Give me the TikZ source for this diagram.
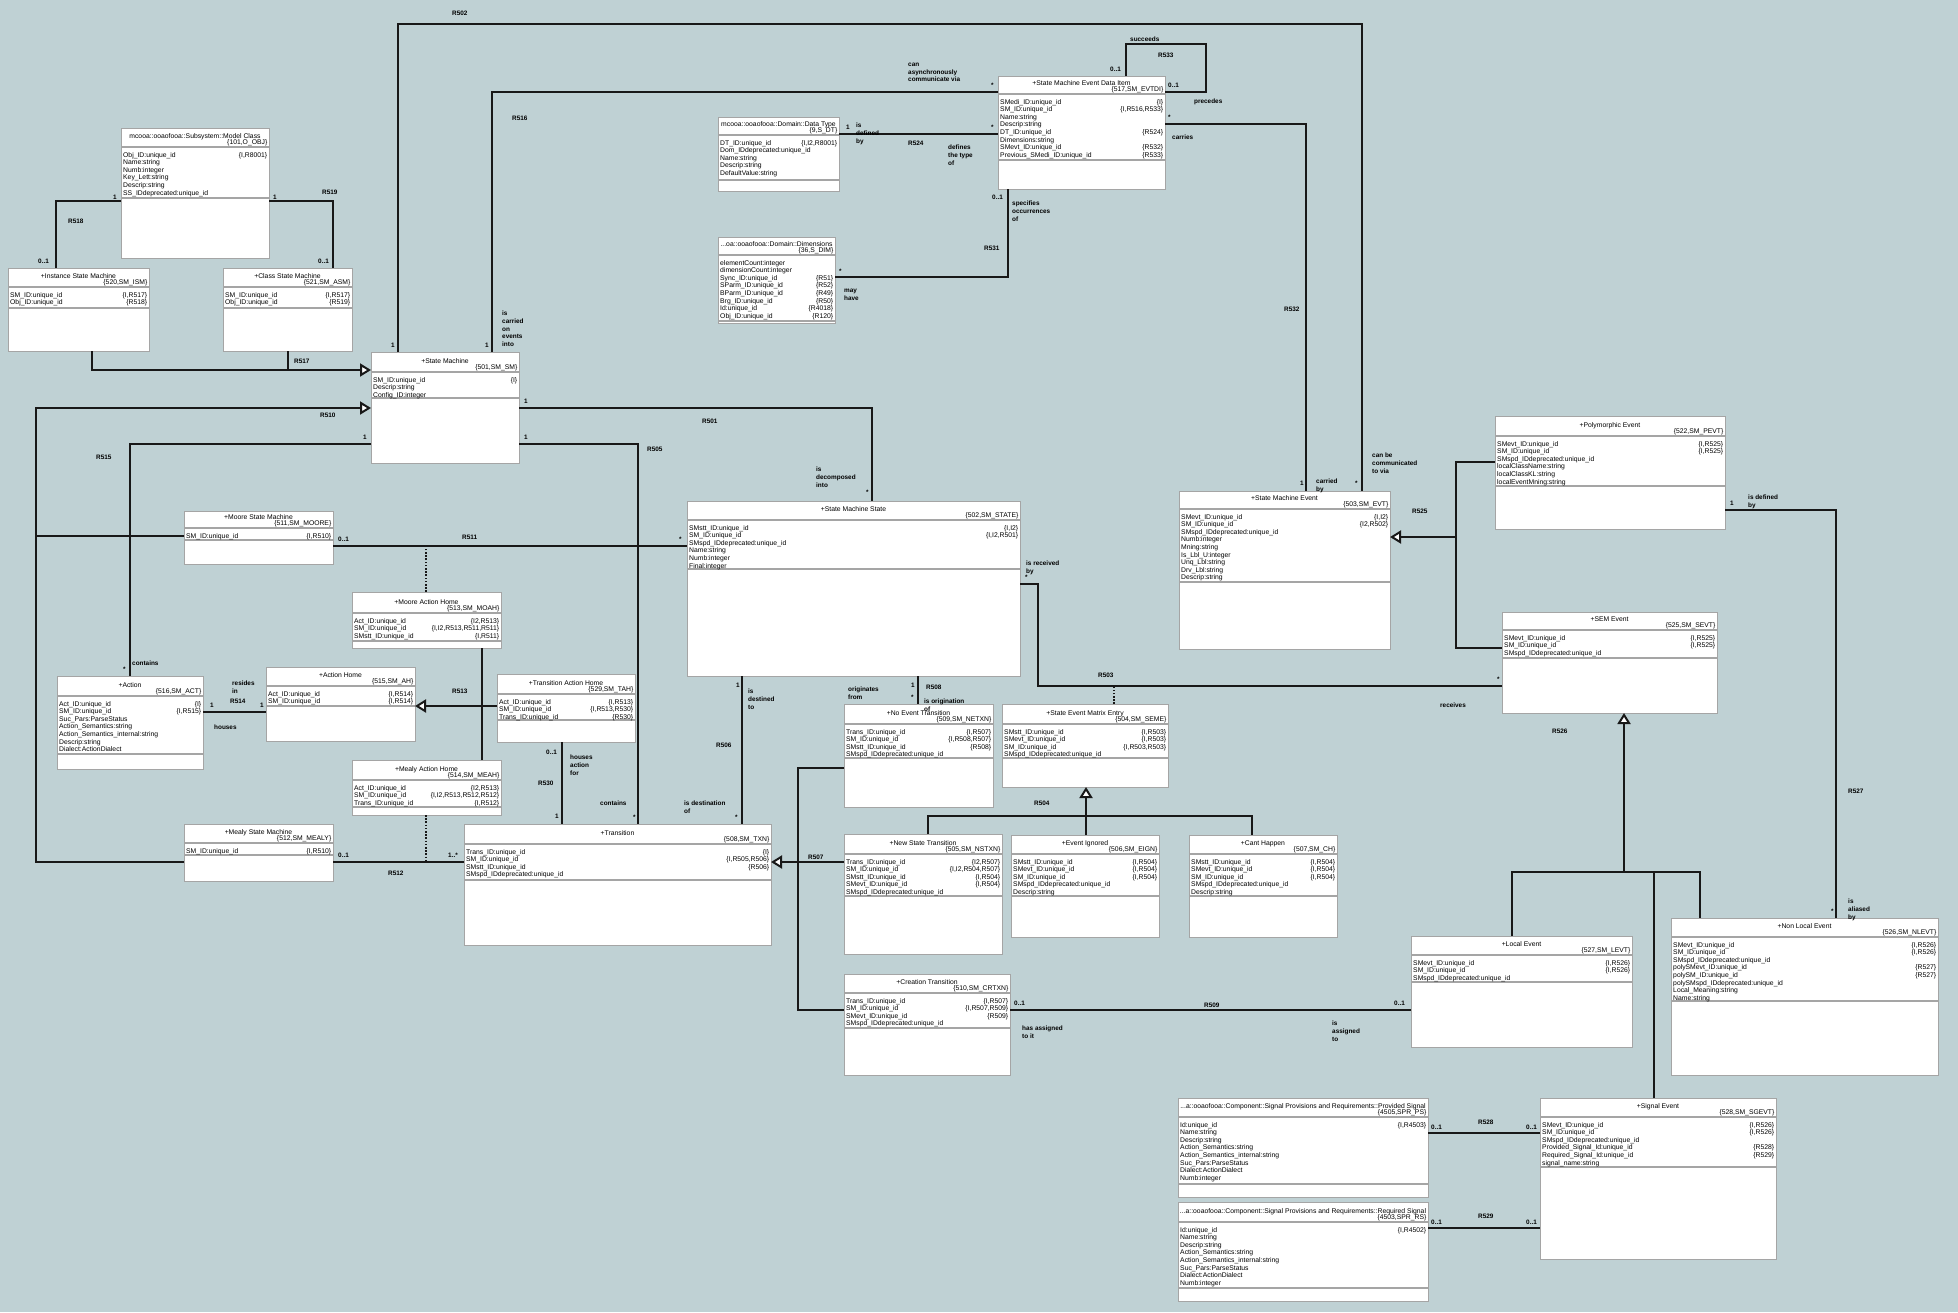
\documentclass[tikz,border=0pt]{standalone}
\usepackage{fontspec}
\setmainfont{Liberation Sans}
\usetikzlibrary{arrows.meta}

\definecolor{diagbg}{RGB}{191,209,212}
\definecolor{linecol}{RGB}{24,24,24}
\definecolor{boxgray}{RGB}{165,165,165}

\newcommand{\classfont}{\fontsize{6.8}{7.6}\selectfont}
\newcommand{\rolefont}{\fontsize{6.4}{7.6}\selectfont\bfseries}

% one attribute line: name on the left, {annotation} on the right
\newcommand{\umlattr}[2]{\hbox to\linewidth{#1\hfil\if\relax\detokenize{#2}\relax\else\{#2\}\fi}}

% #1 name, #2 top left, #3 width, #4 height, #5 title rule, #6 attribute rule,
% #7 title, #8 key, #9 attributes
\newcommand{\umlclass}[9]{%
  \node[classbox, minimum width=#3pt, minimum height=#4pt] (#1) at (#2) {};
  \draw[compsep] ([yshift=-#5pt]#1.north west) -- ([yshift=-#5pt]#1.north east);
  \draw[compsep] ([yshift=-#6pt]#1.north west) -- ([yshift=-#6pt]#1.north east);
  \node[classtitle] (#1title) at ([yshift=-#5pt+9pt]#1.north) {#7};
  \node[classkey] (#1key) at ([xshift=-1.5pt,yshift=-#5pt+2.5pt]#1.north east) {\{#8\}};
  \node[classattrs] (#1attrs) at ([xshift=2pt,yshift=-#5pt-5pt]#1.north west)
    {\begin{minipage}{\dimexpr#3pt-4pt\relax}#9\end{minipage}};
}

\begin{document}
\catcode`\_=12
\begin{tikzpicture}[
		x=1pt, y=-1pt,
		classbox/.style={
			rectangle,
			draw=boxgray,
			fill=white,
			line width=1pt,
			inner sep=0pt,
			outer sep=0pt,
			anchor=north west,
		},
		compsep/.style={draw=boxgray, line width=1.3pt},
		classtitle/.style={anchor=base, inner sep=0pt, font=\classfont},
		classkey/.style={anchor=base east, inner sep=0pt, font=\classfont},
		classattrs/.style={anchor=north west, inner sep=0pt, font=\classfont},
		assoc/.style={draw=linecol, line width=2pt},
		gen/.style={assoc, -{Triangle[open, fill=white, length=11pt, width=13pt]}},
		assocdots/.style={draw=linecol, line width=2pt, dash pattern=on 1.6pt off 1.6pt},
		role/.style={anchor=north west, inner sep=0pt, align=left, font=\rolefont},
	]
		\fill[diagbg] (0,0) rectangle (1958,1312);
		\useasboundingbox (0,0) rectangle (1958,1312);

		% classes
		\umlclass{mc}{121,128}{148}{130}{19}{70}{mcooa::ooaofooa::Subsystem::Model Class}{101,O_OBJ}{
			\umlattr{Obj_ID:unique_id}{I,R8001}
			\umlattr{Name:string}{}
			\umlattr{Numb:integer}{}
			\umlattr{Key_Lett:string}{}
			\umlattr{Descrip:string}{}
			\umlattr{SS_IDdeprecated:unique_id}{}}
		\umlclass{ism}{8,268}{141}{83}{19}{40}{+Instance State Machine}{520,SM_ISM}{
			\umlattr{SM_ID:unique_id}{I,R517}
			\umlattr{Obj_ID:unique_id}{R518}}
		\umlclass{csm}{223,268}{129}{83}{19}{40}{+Class State Machine}{521,SM_ASM}{
			\umlattr{SM_ID:unique_id}{I,R517}
			\umlattr{Obj_ID:unique_id}{R519}}
		\umlclass{sm}{371,352}{148}{111}{20}{46}{+State Machine}{501,SM_SM}{
			\umlattr{SM_ID:unique_id}{I}
			\umlattr{Descrip:string}{}
			\umlattr{Config_ID:integer}{}}
		\umlclass{smedi}{998,76}{167}{113}{18}{84}{+State Machine Event Data Item}{517,SM_EVTDI}{
			\umlattr{SMedi_ID:unique_id}{I}
			\umlattr{SM_ID:unique_id}{I,R516,R533}
			\umlattr{Name:string}{}
			\umlattr{Descrip:string}{}
			\umlattr{DT_ID:unique_id}{R524}
			\umlattr{Dimensions:string}{}
			\umlattr{SMevt_ID:unique_id}{R532}
			\umlattr{Previous_SMedi_ID:unique_id}{R533}}
		\umlclass{dt}{718,117}{121}{74}{18}{63}{mcooa::ooaofooa::Domain::Data Type}{9,S_DT}{
			\umlattr{DT_ID:unique_id}{I,I2,R8001}
			\umlattr{Dom_IDdeprecated:unique_id}{}
			\umlattr{Name:string}{}
			\umlattr{Descrip:string}{}
			\umlattr{DefaultValue:string}{}}
		\umlclass{dim}{718,237}{117}{86}{18}{84}{...oa::ooaofooa::Domain::Dimensions}{36,S_DIM}{
			\umlattr{elementCount:integer}{}
			\umlattr{dimensionCount:integer}{}
			\umlattr{Sync_ID:unique_id}{R51}
			\umlattr{SParm_ID:unique_id}{R52}
			\umlattr{BParm_ID:unique_id}{R49}
			\umlattr{Brg_ID:unique_id}{R50}
			\umlattr{Id:unique_id}{R4018}
			\umlattr{Obj_ID:unique_id}{R120}}
		\umlclass{sms}{687,501}{333}{175}{19}{68}{+State Machine State}{502,SM_STATE}{
			\umlattr{SMstt_ID:unique_id}{I,I2}
			\umlattr{SM_ID:unique_id}{I,I2,R501}
			\umlattr{SMspd_IDdeprecated:unique_id}{}
			\umlattr{Name:string}{}
			\umlattr{Numb:integer}{}
			\umlattr{Final:integer}{}}
		\umlclass{smevt}{1179,491}{211}{158}{18}{91}{+State Machine Event}{503,SM_EVT}{
			\umlattr{SMevt_ID:unique_id}{I,I2}
			\umlattr{SM_ID:unique_id}{I2,R502}
			\umlattr{SMspd_IDdeprecated:unique_id}{}
			\umlattr{Numb:integer}{}
			\umlattr{Mning:string}{}
			\umlattr{Is_Lbl_U:integer}{}
			\umlattr{Unq_Lbl:string}{}
			\umlattr{Drv_Lbl:string}{}
			\umlattr{Descrip:string}{}}
		\umlclass{pevt}{1495,416}{230}{113}{20}{70}{+Polymorphic Event}{522,SM_PEVT}{
			\umlattr{SMevt_ID:unique_id}{I,R525}
			\umlattr{SM_ID:unique_id}{I,R525}
			\umlattr{SMspd_IDdeprecated:unique_id}{}
			\umlattr{localClassName:string}{}
			\umlattr{localClassKL:string}{}
			\umlattr{localEventMning:string}{}}
		\umlclass{semevt}{1502,612}{215}{101}{18}{46}{+SEM Event}{525,SM_SEVT}{
			\umlattr{SMevt_ID:unique_id}{I,R525}
			\umlattr{SM_ID:unique_id}{I,R525}
			\umlattr{SMspd_IDdeprecated:unique_id}{}}
		\umlclass{moore}{184,511}{149}{53}{17}{29}{+Moore State Machine}{511,SM_MOORE}{
			\umlattr{SM_ID:unique_id}{I,R510}}
		\umlclass{moah}{352,592}{149}{56}{21}{49}{+Moore Action Home}{513,SM_MOAH}{
			\umlattr{Act_ID:unique_id}{I2,R513}
			\umlattr{SM_ID:unique_id}{I,I2,R513,R511,R511}
			\umlattr{SMstt_ID:unique_id}{I,R511}}
		\umlclass{ah}{266,667}{149}{74}{19}{39}{+Action Home}{515,SM_AH}{
			\umlattr{Act_ID:unique_id}{I,R514}
			\umlattr{SM_ID:unique_id}{I,R514}}
		\umlclass{act}{57,676}{146}{93}{20}{78}{+Action}{516,SM_ACT}{
			\umlattr{Act_ID:unique_id}{I}
			\umlattr{SM_ID:unique_id}{I,R515}
			\umlattr{Suc_Pars:ParseStatus}{}
			\umlattr{Action_Semantics:string}{}
			\umlattr{Action_Semantics_internal:string}{}
			\umlattr{Descrip:string}{}
			\umlattr{Dialect:ActionDialect}{}}
		\umlclass{tah}{497,674}{138}{68}{20}{46}{+Transition Action Home}{529,SM_TAH}{
			\umlattr{Act_ID:unique_id}{I,R513}
			\umlattr{SM_ID:unique_id}{I,R513,R530}
			\umlattr{Trans_ID:unique_id}{R530}}
		\umlclass{meah}{352,760}{149}{55}{20}{47}{+Mealy Action Home}{514,SM_MEAH}{
			\umlattr{Act_ID:unique_id}{I2,R513}
			\umlattr{SM_ID:unique_id}{I,I2,R513,R512,R512}
			\umlattr{Trans_ID:unique_id}{I,R512}}
		\umlclass{mealy}{184,824}{149}{57}{19}{31}{+Mealy State Machine}{512,SM_MEALY}{
			\umlattr{SM_ID:unique_id}{I,R510}}
		\umlclass{txn}{464,824}{307}{121}{20}{56}{+Transition}{508,SM_TXN}{
			\umlattr{Trans_ID:unique_id}{I}
			\umlattr{SM_ID:unique_id}{I,R505,R506}
			\umlattr{SMstt_ID:unique_id}{R506}
			\umlattr{SMspd_IDdeprecated:unique_id}{}}
		\umlclass{netxn}{844,704}{149}{103}{20}{54}{+No Event Transition}{509,SM_NETXN}{
			\umlattr{Trans_ID:unique_id}{I,R507}
			\umlattr{SM_ID:unique_id}{I,R508,R507}
			\umlattr{SMstt_ID:unique_id}{R508}
			\umlattr{SMspd_IDdeprecated:unique_id}{}}
		\umlclass{smentry}{1002,704}{166}{83}{20}{54}{+State Event Matrix Entry}{504,SM_SEME}{
			\umlattr{SMstt_ID:unique_id}{I,R503}
			\umlattr{SMevt_ID:unique_id}{I,R503}
			\umlattr{SM_ID:unique_id}{I,R503,R503}
			\umlattr{SMspd_IDdeprecated:unique_id}{}}
		\umlclass{nstxn}{844,834}{158}{120}{20}{62}{+New State Transition}{505,SM_NSTXN}{
			\umlattr{Trans_ID:unique_id}{I2,R507}
			\umlattr{SM_ID:unique_id}{I,I2,R504,R507}
			\umlattr{SMstt_ID:unique_id}{I,R504}
			\umlattr{SMevt_ID:unique_id}{I,R504}
			\umlattr{SMspd_IDdeprecated:unique_id}{}}
		\umlclass{crtxn}{844,974}{166}{101}{19}{54}{+Creation Transition}{510,SM_CRTXN}{
			\umlattr{Trans_ID:unique_id}{I,R507}
			\umlattr{SM_ID:unique_id}{I,R507,R509}
			\umlattr{SMevt_ID:unique_id}{R509}
			\umlattr{SMspd_IDdeprecated:unique_id}{}}
		\umlclass{eign}{1011,835}{148}{102}{19}{61}{+Event Ignored}{506,SM_EIGN}{
			\umlattr{SMstt_ID:unique_id}{I,R504}
			\umlattr{SMevt_ID:unique_id}{I,R504}
			\umlattr{SM_ID:unique_id}{I,R504}
			\umlattr{SMspd_IDdeprecated:unique_id}{}
			\umlattr{Descrip:string}{}}
		\umlclass{chap}{1189,835}{148}{102}{19}{61}{+Cant Happen}{507,SM_CH}{
			\umlattr{SMstt_ID:unique_id}{I,R504}
			\umlattr{SMevt_ID:unique_id}{I,R504}
			\umlattr{SM_ID:unique_id}{I,R504}
			\umlattr{SMspd_IDdeprecated:unique_id}{}
			\umlattr{Descrip:string}{}}
		\umlclass{levt}{1411,936}{221}{111}{19}{46}{+Local Event}{527,SM_LEVT}{
			\umlattr{SMevt_ID:unique_id}{I,R526}
			\umlattr{SM_ID:unique_id}{I,R526}
			\umlattr{SMspd_IDdeprecated:unique_id}{}}
		\umlclass{nlevt}{1671,918}{267}{157}{19}{83}{+Non Local Event}{526,SM_NLEVT}{
			\umlattr{SMevt_ID:unique_id}{I,R526}
			\umlattr{SM_ID:unique_id}{I,R526}
			\umlattr{SMspd_IDdeprecated:unique_id}{}
			\umlattr{polySMevt_ID:unique_id}{R527}
			\umlattr{polySM_ID:unique_id}{R527}
			\umlattr{polySMspd_IDdeprecated:unique_id}{}
			\umlattr{Local_Meaning:string}{}
			\umlattr{Name:string}{}}
		\umlclass{sgevt}{1540,1098}{236}{161}{19}{69}{+Signal Event}{528,SM_SGEVT}{
			\umlattr{SMevt_ID:unique_id}{I,R526}
			\umlattr{SM_ID:unique_id}{I,R526}
			\umlattr{SMspd_IDdeprecated:unique_id}{}
			\umlattr{Provided_Signal_Id:unique_id}{R528}
			\umlattr{Required_Signal_Id:unique_id}{R529}
			\umlattr{signal_name:string}{}}
		\umlclass{provsig}{1178,1098}{250}{99}{19}{86}{...a::ooaofooa::Component::Signal Provisions and Requirements::Provided Signal}{4505,SPR_PS}{
			\umlattr{Id:unique_id}{I,R4503}
			\umlattr{Name:string}{}
			\umlattr{Descrip:string}{}
			\umlattr{Action_Semantics:string}{}
			\umlattr{Action_Semantics_internal:string}{}
			\umlattr{Suc_Pars:ParseStatus}{}
			\umlattr{Dialect:ActionDialect}{}
			\umlattr{Numb:integer}{}}
		\umlclass{reqsig}{1178,1202}{250}{99}{20}{86}{...a::ooaofooa::Component::Signal Provisions and Requirements::Required Signal}{4503,SPR_RS}{
			\umlattr{Id:unique_id}{I,R4502}
			\umlattr{Name:string}{}
			\umlattr{Descrip:string}{}
			\umlattr{Action_Semantics:string}{}
			\umlattr{Action_Semantics_internal:string}{}
			\umlattr{Suc_Pars:ParseStatus}{}
			\umlattr{Dialect:ActionDialect}{}
			\umlattr{Numb:integer}{}}

		% bends of the connectors
		\coordinate (bend517) at (288,370);
		\coordinate (bend502) at (398,24);
		\coordinate (bend510) at (36,408);
		\coordinate (bend511) at (426,546);
		\coordinate (bend512) at (426,862);
		\coordinate (bend507) at (798,1010);
		\coordinate (bend503) at (1038,686);
		\coordinate (bend503m) at (1114,686);
		\coordinate (bend504) at (1252,816);
		\coordinate (bend525) at (1456,537);
		\coordinate (bend526) at (1624,872);
		\coordinate (bend526s) at (1654,872);

		% connectors
		\draw[assoc] (mc.west |- 0,201) -| (ism.north -| 56,0);
		\draw[assoc] (mc.east |- 0,201) -| (csm.north -| 333,0);
		\draw[gen] (ism.south -| 92,0) |- (sm.west |- bend517);
		\draw[assoc] (csm.south -| bend517) -- (bend517);
		\draw[assoc] (sm.north -| bend502) -- (bend502) -| (smevt.north -| 1362,0);
		\draw[assoc] (sm.north -| 492,0) |- (smedi.west |- 0,92);
		\draw[assoc] (smedi.north -| 1126,0) |- (1206,44) |- (smedi.east |- 0,92);
		\draw[assoc] (smedi.east |- 0,124) -| (smevt.north -| 1306,0);
		\draw[assoc] (dt.east |- 0,134) -- (smedi.west |- 0,134);
		\draw[assoc] (dim.east |- 0,277) -| (smedi.south -| 1008,0);
		\draw[assoc] (sm.east |- 0,408) -| (sms.north -| 872,0);
		\draw[assoc] (sm.east |- 0,444) -| (txn.north -| 638,0);
		\draw[gen] (mealy.west |- 0,862) -| (bend510) -- (sm.west |- bend510);
		\draw[assoc] (moore.west |- 0,536) -- (bend510 |- 0,536);
		\draw[assoc] (sm.west |- 0,444) -| (act.north -| 130,0);
		\draw[assoc] (moore.east |- bend511) -- (sms.west |- bend511);
		\draw[assocdots] (moah.north -| bend511) -- (bend511);
		\draw[gen] (tah.west |- 0,706) -- (ah.east |- 0,706);
		\draw[assoc] (moah.south -| 482,0) -- (meah.north -| 482,0);
		\draw[assoc] (act.east |- 0,712) -- (ah.west |- 0,712);
		\draw[assoc] (tah.south -| 562,0) -- (txn.north -| 562,0);
		\draw[assoc] (mealy.east |- bend512) -- (txn.west |- bend512);
		\draw[assocdots] (meah.south -| bend512) -- (bend512);
		\draw[assoc] (sms.south -| 742,0) -- (txn.north -| 742,0);
		\draw[assoc] (sms.south -| 918,0) -- (netxn.north -| 918,0);
		\draw[gen] (nstxn.west |- 0,862) -- (txn.east |- 0,862);
		\draw[assoc] (netxn.west |- 0,768) -| (bend507) -- (crtxn.west |- bend507);
		\draw[assoc] (sms.east |- 0,584) -| (bend503) -- (semevt.west |- bend503);
		\draw[assocdots] (smentry.north -| bend503m) -- (bend503m);
		\draw[gen] (eign.north -| 1086,0) -- (smentry.south -| 1086,0);
		\draw[assoc] (nstxn.north -| 928,0) |- (bend504) -- (chap.north -| bend504);
		\draw[assoc] (crtxn.east |- bend507) -- (levt.west |- bend507);
		\draw[gen] (bend525) -- (smevt.east |- bend525);
		\draw[assoc] (pevt.west |- 0,462) -| (1456,648) -- (semevt.west |- 0,648);
		\draw[assoc] (pevt.east |- 0,510) -| (nlevt.north -| 1836,0);
		\draw[gen] (bend526) -- (semevt.south -| bend526);
		\draw[assoc] (levt.north -| 1512,0) |- (1700,872) -- (nlevt.north -| 1700,0);
		\draw[assoc] (sgevt.north -| bend526s) -- (bend526s);
		\draw[assoc] (provsig.east |- 0,1133) -- (sgevt.west |- 0,1133);
		\draw[assoc] (reqsig.east |- 0,1228) -- (sgevt.west |- 0,1228);

		% relationship labels
		\node[role] (l518) at (68,219) {R518};
		\node[role] (l518a) at (113,195) {1};
		\node[role] (l518b) at (38,259) {0..1};
		\node[role] (l519) at (322,190) {R519};
		\node[role] (l519a) at (273,195) {1};
		\node[role] (l519b) at (318,259) {0..1};
		\node[role] (l517) at (294,359) {R517};
		\node[role] (l502) at (452,11) {R502};
		\node[role] (l502a) at (391,343) {1};
		\node[role] (l502b) at (1355,481) {*};
		\node[role] (l502c) at (1372,453) {can be\\communicated\\to via};
		\node[role] (l516) at (512,116) {R516};
		\node[role] (l516a) at (485,343) {1};
		\node[role] (l516b) at (991,83) {*};
		\node[role] (l516c) at (502,311) {is\\carried\\on\\events\\into};
		\node[role] (l516d) at (908,63) {can\\asynchronously\\communicate via};
		\node[role] (l533) at (1158,53) {R533};
		\node[role] (l533a) at (1110,67) {0..1};
		\node[role] (l533b) at (1168,83) {0..1};
		\node[role] (l533c) at (1130,37) {succeeds};
		\node[role] (l533d) at (1194,99) {precedes};
		\node[role] (l532) at (1284,307) {R532};
		\node[role] (l532a) at (1168,115) {*};
		\node[role] (l532b) at (1300,481) {1};
		\node[role] (l532c) at (1172,135) {carries};
		\node[role] (l532d) at (1316,479) {carried\\by};
		\node[role] (l524) at (908,141) {R524};
		\node[role] (l524a) at (846,125) {1};
		\node[role] (l524b) at (991,125) {*};
		\node[role] (l524c) at (856,123) {is\\defined\\by};
		\node[role] (l524d) at (948,145) {defines\\the type\\of};
		\node[role] (l531) at (984,246) {R531};
		\node[role] (l531a) at (839,269) {*};
		\node[role] (l531b) at (992,195) {0..1};
		\node[role] (l531c) at (844,289) {may\\have};
		\node[role] (l531d) at (1012,201) {specifies\\occurrences\\of};
		\node[role] (l501) at (702,419) {R501};
		\node[role] (l501a) at (524,399) {1};
		\node[role] (l501b) at (866,490) {*};
		\node[role] (l501c) at (816,467) {is\\decomposed\\into};
		\node[role] (l505) at (647,447) {R505};
		\node[role] (l505a) at (524,435) {1};
		\node[role] (l505b) at (633,815) {*};
		\node[role] (l505c) at (600,801) {contains};
		\node[role] (l510) at (320,413) {R510};
		\node[role] (l515) at (96,455) {R515};
		\node[role] (l515a) at (363,435) {1};
		\node[role] (l515b) at (123,667) {*};
		\node[role] (l515c) at (132,661) {contains};
		\node[role] (l511) at (462,535) {R511};
		\node[role] (l511a) at (338,537) {0..1};
		\node[role] (l511b) at (679,537) {*};
		\node[role] (l513) at (452,689) {R513};
		\node[role] (l514) at (230,699) {R514};
		\node[role] (l514a) at (210,703) {1};
		\node[role] (l514b) at (260,703) {1};
		\node[role] (l514c) at (232,681) {resides\\in};
		\node[role] (l514d) at (214,725) {houses};
		\node[role] (l530) at (538,781) {R530};
		\node[role] (l530a) at (546,750) {0..1};
		\node[role] (l530b) at (555,814) {1};
		\node[role] (l530c) at (570,755) {houses\\action\\for};
		\node[role] (l512) at (388,871) {R512};
		\node[role] (l512a) at (338,853) {0..1};
		\node[role] (l512b) at (448,853) {1..*};
		\node[role] (l506) at (716,743) {R506};
		\node[role] (l506a) at (736,683) {1};
		\node[role] (l506b) at (735,815) {*};
		\node[role] (l506c) at (748,689) {is\\destined\\to};
		\node[role] (l506d) at (684,801) {is destination\\of};
		\node[role] (l508) at (926,685) {R508};
		\node[role] (l508a) at (911,683) {1};
		\node[role] (l508b) at (911,695) {*};
		\node[role] (l508c) at (848,687) {originates\\from};
		\node[role] (l508d) at (924,699) {is origination\\of};
		\node[role] (l507) at (808,855) {R507};
		\node[role] (l503) at (1098,673) {R503};
		\node[role] (l503a) at (1025,575) {*};
		\node[role] (l503b) at (1497,677) {*};
		\node[role] (l503c) at (1026,561) {is received\\by};
		\node[role] (l503d) at (1440,703) {receives};
		\node[role] (l504) at (1034,801) {R504};
		\node[role] (l509) at (1204,1003) {R509};
		\node[role] (l509a) at (1014,1001) {0..1};
		\node[role] (l509b) at (1394,1001) {0..1};
		\node[role] (l509c) at (1022,1026) {has assigned\\to it};
		\node[role] (l509d) at (1332,1021) {is\\assigned\\to};
		\node[role] (l525) at (1412,509) {R525};
		\node[role] (l527) at (1848,789) {R527};
		\node[role] (l527a) at (1730,501) {1};
		\node[role] (l527b) at (1831,909) {*};
		\node[role] (l527c) at (1748,495) {is defined\\by};
		\node[role] (l527d) at (1848,899) {is\\aliased\\by};
		\node[role] (l526) at (1552,729) {R526};
		\node[role] (l528) at (1478,1120) {R528};
		\node[role] (l528a) at (1431,1125) {0..1};
		\node[role] (l528b) at (1526,1125) {0..1};
		\node[role] (l529) at (1478,1214) {R529};
		\node[role] (l529a) at (1431,1220) {0..1};
		\node[role] (l529b) at (1526,1220) {0..1};
	\end{tikzpicture}
\end{document}
